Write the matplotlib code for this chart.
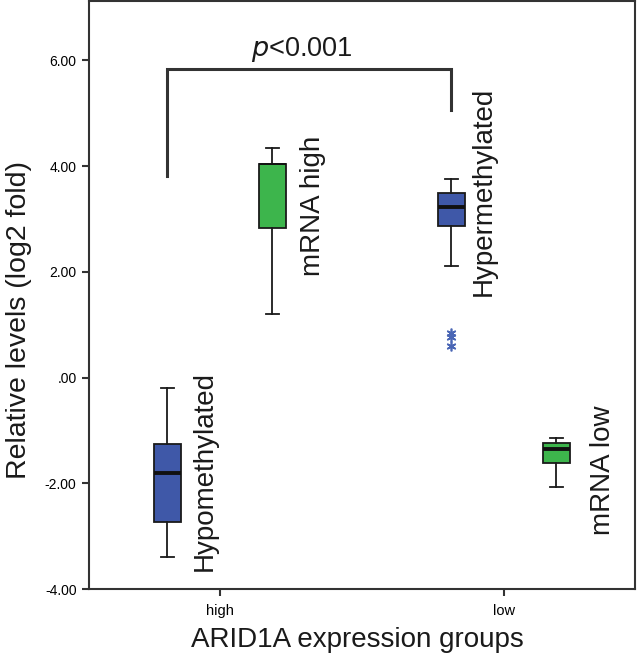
import matplotlib
matplotlib.use("Agg")
import matplotlib.pyplot as plt

plt.rcParams['font.family'] = ['Liberation Sans', 'DejaVu Sans']

groups = ["high", "low"]
series = ["Hypomethylated", "mRNA high", "Hypermethylated", "mRNA low"]
whislo = [-3.39, 1.20, 2.11, -2.07]
q1 = [-2.73, 2.83, 2.87, -1.62]
med = [-1.81, 4.04, 3.23, -1.35]
q3 = [-1.26, 4.04, 3.49, -1.24]
whishi = [-0.20, 4.34, 3.76, -1.14]
fliers = [[], [], [0.84, 0.77, 0.60], []]
colors = ["#3F58A8", "#3DB54C", "#3F58A8", "#3DB54C"]
yticks = [-4, -2, 0, 2, 4, 6]
ytick_labels = ["-4.00", "-2.00", ".00", "2.00", "4.00", "6.00"]
pvalue_text = "<0.001"

fig = plt.figure(figsize=(6.38, 6.66), dpi=100)
ax = fig.add_axes([0.1395, 0.1156, 0.8555, 0.883])

offset = 0.185
positions = [1 - offset, 1 + offset, 2 - offset, 2 + offset]
stats = []
for i in range(4):
    stats.append(dict(whislo=whislo[i], q1=q1[i], med=med[i], q3=q3[i],
                      whishi=whishi[i], fliers=fliers[i]))

bp = ax.bxp(stats, positions=positions, widths=0.095, patch_artist=True,
            showfliers=True, capwidths=0.046,
            boxprops=dict(linewidth=1.3, edgecolor="#1a1a1a"),
            whiskerprops=dict(linewidth=1.3, color="#1a1a1a"),
            capprops=dict(linewidth=1.3, color="#1a1a1a"),
            medianprops=dict(linewidth=2.8, color="#111111"),
            flierprops=dict(marker=(6, 2, 0), markersize=7, markeredgecolor="#4A66B5",
                            markerfacecolor="#4A66B5", linestyle="none", markeredgewidth=1.2))
for patch, c in zip(bp["boxes"], colors):
    patch.set_facecolor(c)
# median hidden for mRNA high (coincides with box top)
bp["medians"][1].set_linewidth(1.3)

label_dx = [0.132, 0.142, 0.114, 0.164]
label_y = [-1.77, 3.25, 3.53, -1.75]
for i in range(4):
    ax.text(positions[i] + label_dx[i], label_y[i], series[i], rotation=90,
            ha="center", va="center", fontsize=20, color="#1a1a1a")

# significance bracket
xl, xr = positions[0], positions[2]
ax.plot([xl, xl, xr, xr], [3.81, 5.84, 5.84, 5.06], color="#333333", linewidth=2.2,
        solid_joinstyle="miter")
ax.text((xl + xr) / 2 - 0.028, 6.2, r"$\it{p}$" + pvalue_text, ha="center", va="center",
        fontsize=19.5, color="#1a1a1a")

ax.set_xlim(0.539, 2.461)
ax.set_ylim(-4, 7.126)
ax.set_xticks([1, 2])
ax.set_xticklabels(groups, fontsize=10.5)
ax.set_yticks(yticks)
ax.set_yticklabels(ytick_labels, fontsize=10)
ax.tick_params(axis="both", direction="out", length=5, width=1.5, color="#333333", pad=4)
ax.tick_params(axis="x", pad=6)
for s in ax.spines.values():
    s.set_linewidth(1.5)
    s.set_color("#333333")
ax.set_xlabel("ARID1A expression groups", fontsize=20, color="#1a1a1a")
ax.set_ylabel("Relative levels (log2 fold)", fontsize=20.5, color="#1a1a1a")
ax.xaxis.set_label_coords(0.491, -0.087)
ax.xaxis.label.set_va("center")
ax.yaxis.set_label_coords(-0.128, 0.457)
ax.yaxis.label.set_va("center")

fig.savefig("out.png", dpi=100)
